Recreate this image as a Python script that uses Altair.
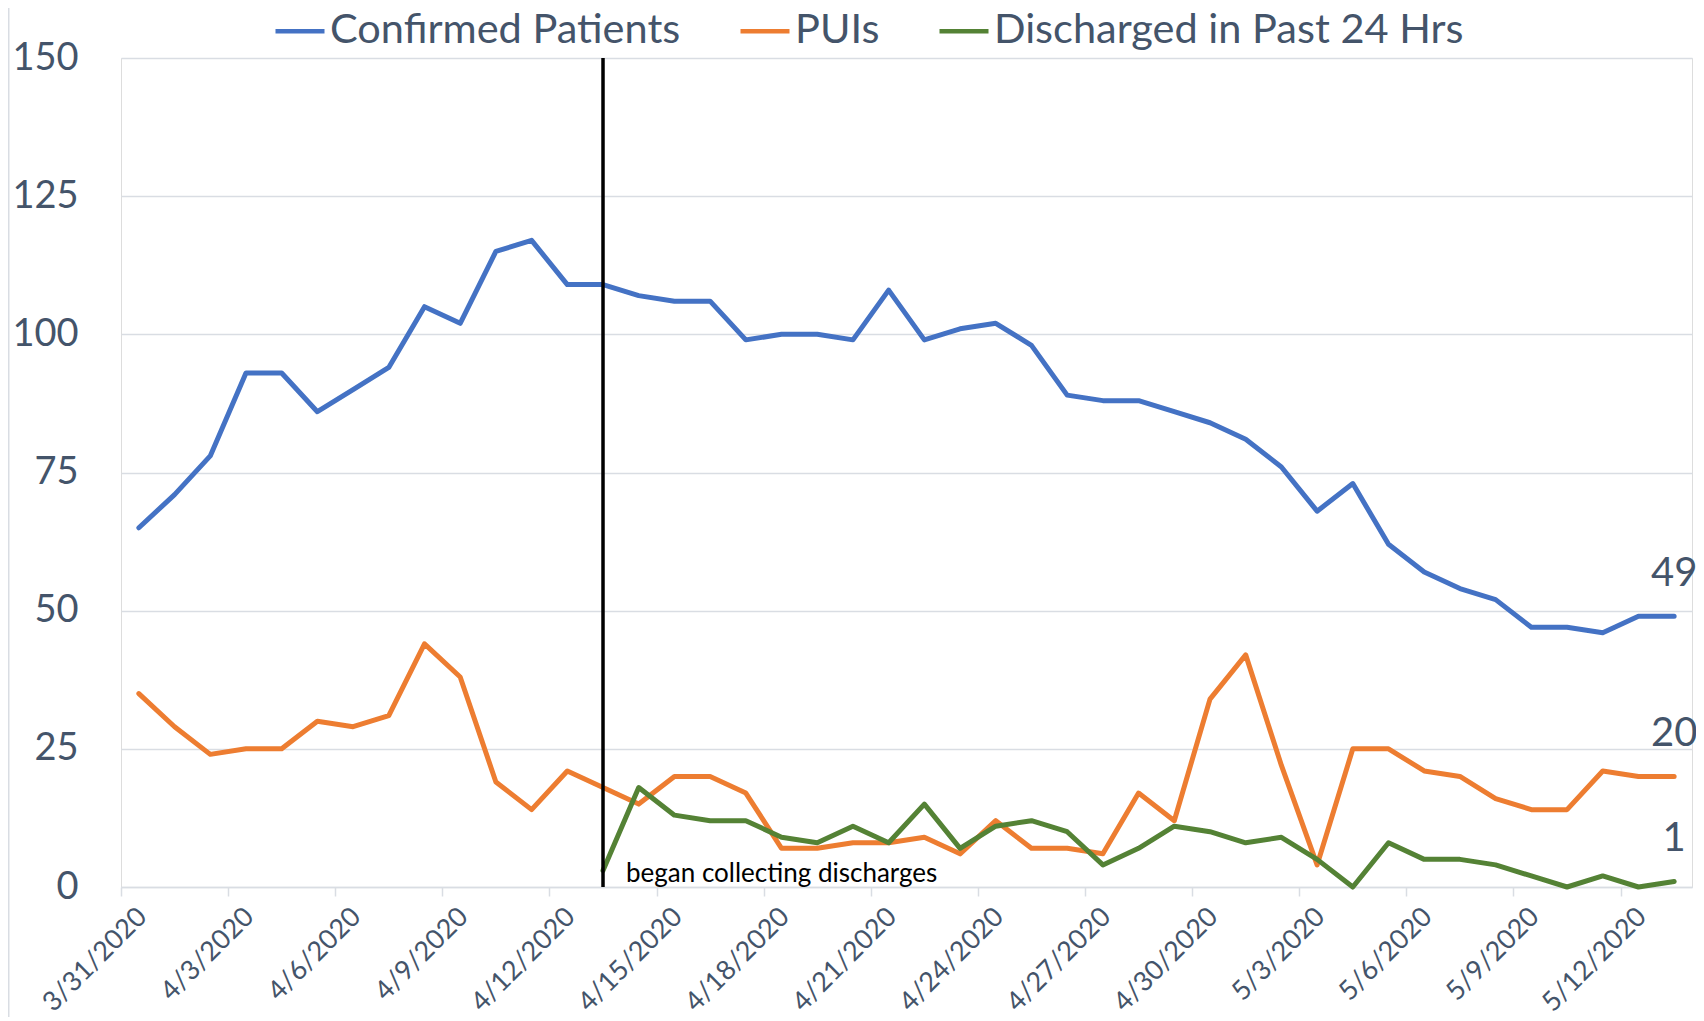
import altair as alt
import pandas as pd

# ---- data ----
dates = [
    "3/31/2020", "4/1/2020", "4/2/2020", "4/3/2020", "4/4/2020", "4/5/2020", "4/6/2020",
    "4/7/2020", "4/8/2020", "4/9/2020", "4/10/2020", "4/11/2020", "4/12/2020", "4/13/2020",
    "4/14/2020", "4/15/2020", "4/16/2020", "4/17/2020", "4/18/2020", "4/19/2020", "4/20/2020",
    "4/21/2020", "4/22/2020", "4/23/2020", "4/24/2020", "4/25/2020", "4/26/2020", "4/27/2020",
    "4/28/2020", "4/29/2020", "4/30/2020", "5/1/2020", "5/2/2020", "5/3/2020", "5/4/2020",
    "5/5/2020", "5/6/2020", "5/7/2020", "5/8/2020", "5/9/2020", "5/10/2020", "5/11/2020",
    "5/12/2020", "5/13/2020",
]
confirmed = [65, 71, 78, 93, 93, 86, 90, 94, 105, 102, 115, 117, 109, 109, 107, 106,
             106, 99, 100, 100, 99, 108, 99, 101, 102, 98, 89, 88, 88,
             86, 84, 81, 76, 68, 73, 62, 57, 54, 52, 47, 47, 46, 49, 49]
puis = [35, 29, 24, 25, 25, 30, 29, 31, 44, 38, 19, 14, 21, 18, 15, 20,
        20, 17, 7, 7, 8, 8, 9, 6, 12, 7, 7, 6, 17, 12,
        34, 42, 22, 4, 25, 25, 21, 20, 16, 14, 14, 21, 20, 20]
discharge_start = "4/13/2020"
discharged = [3, 18, 13, 12, 12, 9, 8, 11, 8, 15, 7, 11, 12, 10, 4, 7, 11, 10, 8, 9,
              5, 0, 8, 5, 5, 4, 2, 0, 2, 0, 1]

series_names = ["Confirmed Patients", "PUIs", "Discharged in Past 24 Hrs"]
series_colors = ["#4472C4", "#ED7D31", "#548235"]
y_ticks = [0, 25, 50, 75, 100, 125, 150]
x_label_dates = dates[::3]
annotation_text = "began collecting discharges"

# ---- build table ----
rows = []
for d, v in zip(dates, confirmed):
    rows.append({"date": d, "series": series_names[0], "value": v})
for d, v in zip(dates, puis):
    rows.append({"date": d, "series": series_names[1], "value": v})
start_idx = dates.index(discharge_start)
for d, v in zip(dates[start_idx:], discharged):
    rows.append({"date": d, "series": series_names[2], "value": v})
df = pd.DataFrame(rows)
last_df = df[df["date"] == dates[-1]]
marker_df = pd.DataFrame({"date": [discharge_start], "y0": [0], "y1": [150],
                          "label": [annotation_text]})

W, H = 1571, 829
step = W / len(dates)
TXT = "#44546A"
GRID = "#D9DDE3"
FONT = "Lato"

x_scale = alt.Scale(type="point", padding=0.5, domain=dates)
y_scale = alt.Scale(domain=[0, 150], nice=False)

x_axis = alt.Axis(
    title=None, values=x_label_dates, labelAngle=-45, labelAlign="right",
    labelBaseline="top", labelFontSize=27, labelFont=FONT,
    labelColor=TXT, tickColor=GRID, tickSize=9, tickWidth=1.5,
    tickOffset=-step / 2, labelOffset=step / 2 - 6, domainColor=GRID, domainWidth=1.5,
    grid=False, labelPadding=7,
)
y_axis = alt.Axis(
    title=None, values=y_ticks, grid=True, gridColor=GRID, gridWidth=1.5, domain=False,
    ticks=False, labelFontSize=38, labelFont=FONT, labelColor=TXT, labelPadding=43,
)

lines = alt.Chart(df).mark_line(strokeWidth=5, strokeCap="round", strokeJoin="round").encode(
    x=alt.X("date:O", sort=dates, scale=x_scale, axis=x_axis),
    y=alt.Y("value:Q", scale=y_scale, axis=y_axis),
    color=alt.Color(
        "series:N",
        scale=alt.Scale(domain=series_names, range=series_colors),
        sort=series_names,
        legend=alt.Legend(
            orient="none", legendX=152, legendY=-54, direction="horizontal", title=None,
            symbolType="stroke", symbolSize=2401, symbolStrokeWidth=4.5,
            labelFontSize=41.5, labelFont=FONT, labelColor=TXT, labelOffset=3,
            columnPadding=50, labelLimit=0,
        ),
    ),
    order=alt.Order("series:N"),
)

rule = alt.Chart(marker_df).mark_rule(color="black", strokeWidth=3.5).encode(
    x=alt.X("date:O", sort=dates, scale=x_scale),
    y=alt.Y("y0:Q", scale=y_scale),
    y2="y1:Q",
)

annot = alt.Chart(marker_df).mark_text(
    align="left", baseline="alphabetic", dx=23, dy=-5, fontSize=26, font=FONT, color="black"
).encode(
    x=alt.X("date:O", sort=dates, scale=x_scale),
    y=alt.Y("y0:Q", scale=y_scale),
    text="label:N",
)

end_labels = alt.Chart(last_df).mark_text(
    align="center", baseline="middle", dy=-42, fontSize=40, font=FONT, color=TXT
).encode(
    x=alt.X("date:O", sort=dates, scale=x_scale),
    y=alt.Y("value:Q", scale=y_scale),
    text="value:Q",
)

frame = alt.Chart(marker_df).mark_rule(color=GRID, strokeWidth=2).encode(
    x=alt.value(-112.5), y=alt.value(-50), y2=alt.value(H + 130)
)

chart = alt.layer(lines, rule, annot, end_labels, frame).properties(
    width=W, height=H,
    autosize=alt.AutoSizeParams(type="none"),
    padding={"left": 113, "top": 50, "right": 4, "bottom": 130},
).configure_view(stroke=None).configure(font=FONT)

chart.save("out.html", embed_options={"renderer": "svg", "actions": False})
